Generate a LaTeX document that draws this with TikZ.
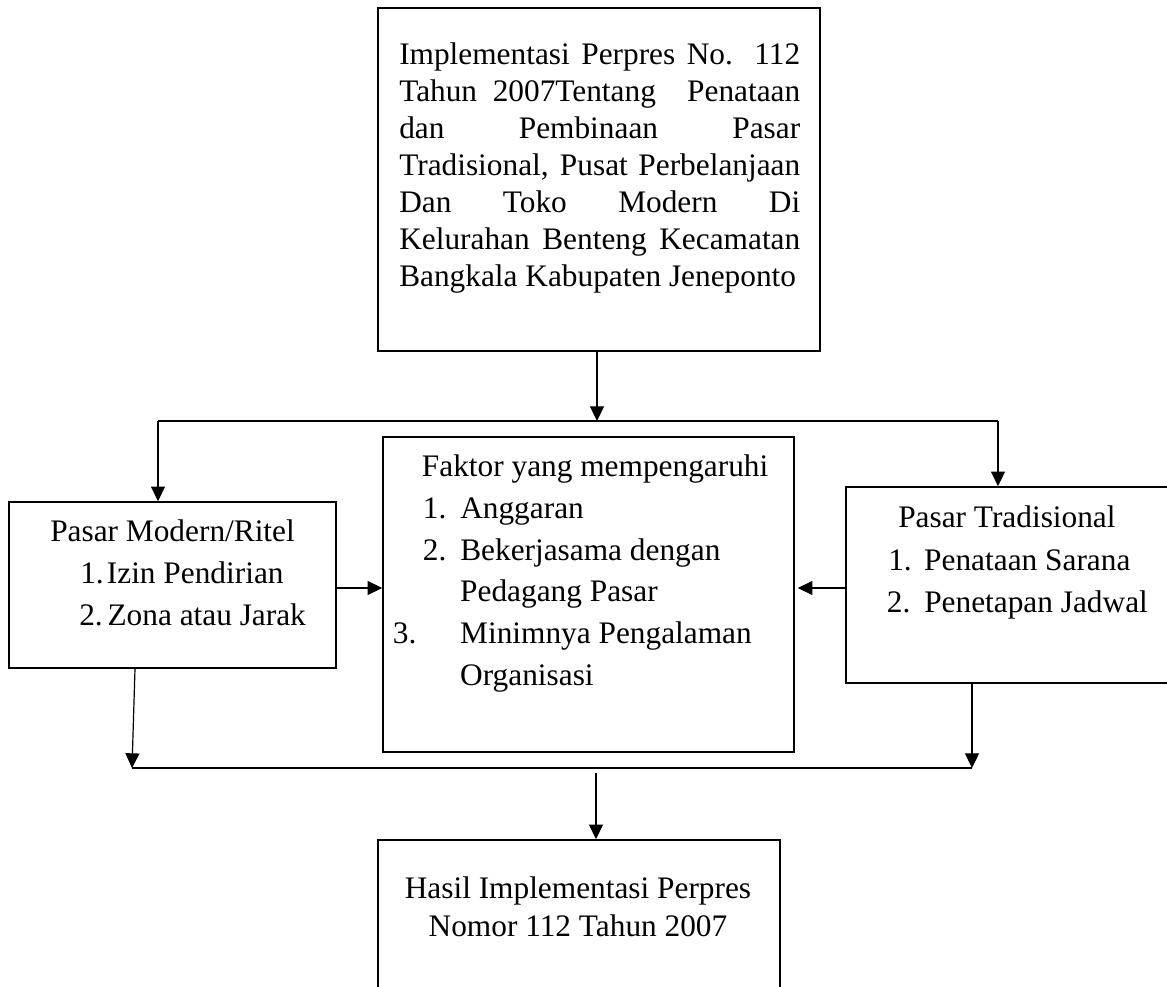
\documentclass[tikz,border=0pt]{standalone}
\usepackage{fontspec}
\setmainfont{Liberation Serif}
\usetikzlibrary{arrows.meta}
\tikzset{
  box/.style={draw, line width=1.2pt, rectangle, inner sep=0pt},
  txt/.style={inner sep=0pt, anchor=base west, align=flush left},
  arr/.style={line width=0.9pt, -{Triangle[width=10.5pt,length=11pt]}},
  ln/.style={line width=0.9pt}
}
\begin{document}
\begin{tikzpicture}[x=0.75pt,y=-0.75pt]
\useasboundingbox (0,0) rectangle (1167,987);
\clip (0,0) rectangle (1167,987);

% boxes
\node[box, minimum width=331.5pt, minimum height=257.25pt] (top) at (599,179.5) {};
\node[box, minimum width=308.25pt, minimum height=236.25pt] (mid) at (588.5,594.5) {};
\node[box, minimum width=245.25pt, minimum height=124.5pt] (left) at (172.5,585) {};
\node[box, minimum width=250.5pt, minimum height=147pt] (right) at (1013,585) {};
\node[box, minimum width=301.5pt, minimum height=120pt] (bot) at (579,920) {};

% texts
\node[txt, text width=310pt, font=\fontsize{23.5}{27.7}\selectfont] (toptxt) at (399,65) {%
\makebox[300.75pt][s]{Implementasi Perpres No. 112}\\
\makebox[300.75pt][s]{Tahun 2007Tentang\ \ Penataan}\\
\makebox[300.75pt][s]{dan Pembinaan Pasar}\\
\makebox[300.75pt][s]{Tradisional, Pusat Perbelanjaan}\\
\makebox[300.75pt][s]{Dan Toko Modern Di}\\
\makebox[300.75pt][s]{Kelurahan Benteng Kecamatan}\\
Bangkala Kabupaten Jeneponto};

\node[txt, text width=210pt, font=\fontsize{23.5}{31.25}\selectfont] (lefttxt) at (50,541.7) {%
Pasar Modern/Ritel\\
\hspace*{22.5pt}\makebox[20pt][l]{1.}Izin Pendirian\\
\hspace*{21.75pt}\makebox[21.2pt][l]{2.}Zona atau Jarak};

\node[txt, text width=280pt, font=\fontsize{23.5}{31.3}\selectfont] (midtxt) at (421.7,476.7) {%
Faktor yang mempengaruhi\\
\hspace*{0.75pt}\makebox[28pt][l]{1.}Anggaran\\
\hspace*{0.75pt}\makebox[28pt][l]{2.}Bekerjasama dengan\\
\hspace*{28.7pt}Pedagang Pasar\\
\hspace*{-21.75pt}\makebox[50.45pt][l]{3.}Minimnya Pengalaman\\
\hspace*{28.7pt}Organisasi};

\node[txt, text width=200pt, font=\fontsize{23.5}{31.9}\selectfont] (righttxt) at (898,527.7) {%
Pasar Tradisional\\
\hspace*{-7.5pt}\makebox[27pt][l]{1.}Penataan Sarana\\
\hspace*{-8.5pt}\makebox[28pt][l]{2.}Penetapan Jadwal};

\node[inner sep=0pt, anchor=base, align=flush center, text width=290pt, font=\fontsize{23.5}{29}\selectfont] (bottxt) at (578,898) {%
Hasil Implementasi Perpres\\
Nomor 112 Tahun 2007};

% connectors
\coordinate (hlL) at (158,421);
\coordinate (hlR) at (998,421);
\coordinate (blL) at (132,768);
\coordinate (blR) at (972,768);
\coordinate (bm) at (596,773);

\draw[arr] (top.south -| 597,0) -- (597,421);
\draw[ln] (hlL) -- (hlR);
\draw[arr] (hlL) -- (hlL |- left.north);
\draw[arr] (hlR) -- (hlR |- right.north);
\draw[arr] (left.east |- 0,588) -- (mid.west |- 0,588);
\draw[arr, shorten >=2.25pt] (right.west |- 0,588) -- (mid.east |- 0,588);
\draw[arr] (left.south -| 135,0) -- (blL);
\draw[arr] (right.south -| blR) -- (blR);
\draw[ln] (blL) -- (blR);
\draw[arr] (bm) -- (bm |- bot.north);
\end{tikzpicture}
\end{document}
